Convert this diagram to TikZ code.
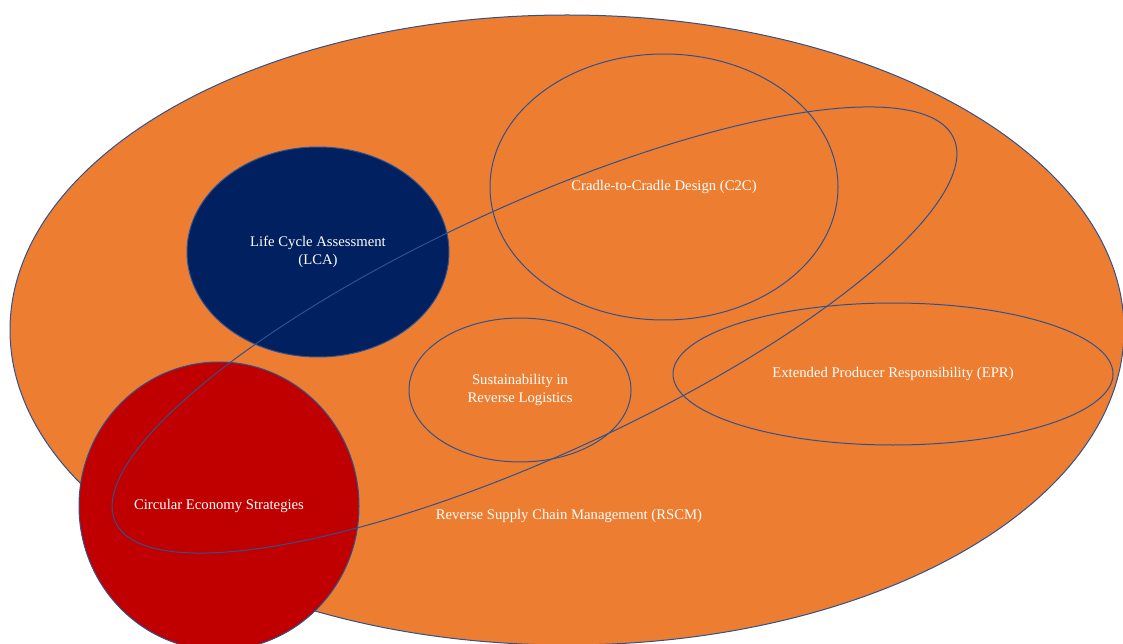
\documentclass[tikz,border=0pt]{standalone}
\usepackage{fontspec}
\setmainfont{Liberation Serif}
\usetikzlibrary{shapes.geometric}
\definecolor{fieldorange}{HTML}{ED7D31}
\definecolor{lcanavy}{HTML}{002060}
\definecolor{cered}{HTML}{C00000}
\definecolor{rimblue}{HTML}{2F528F}
\begin{document}
\begin{tikzpicture}[x=1pt,y=-1pt,
    every node/.style={font=\fontsize{14.7}{18}\selectfont, text=white, align=center},
    ring/.style={ellipse, draw=rimblue, line width=1pt, inner sep=0pt}]
  \useasboundingbox (0,0) rectangle (1123,644);
  \clip (0,0) rectangle (1123,644);
  % outer field
  \node[ring, fill=fieldorange, minimum width=1114, minimum height=630] (field) at (567,330) {};
  % filled sets
  \node[ring, fill=lcanavy, minimum width=262, minimum height=210] (lca) at (318,252) {Life Cycle Assessment\\(LCA)};
  \node[ring, fill=cered, minimum width=280, minimum height=288] (ces) at (219,506) {Circular Economy Strategies};
  % open sets
  \node[ring, rotate=24.6, minimum width=922, minimum height=250] (rscm) at (534.5,330) {};
  \node[ring, minimum width=348, minimum height=266] (c2c) at (664,187) {Cradle-to-Cradle Design (C2C)};
  \node[ring, minimum width=222, minimum height=144] (srl) at (520,390) {Sustainability in\\Reverse Logistics};
  \node[ring, minimum width=440, minimum height=142] (epr) at (893,374) {Extended Producer Responsibility (EPR)};
  \node (rscmtext) at (569,516) {Reverse Supply Chain Management (RSCM)};
\end{tikzpicture}
\end{document}
